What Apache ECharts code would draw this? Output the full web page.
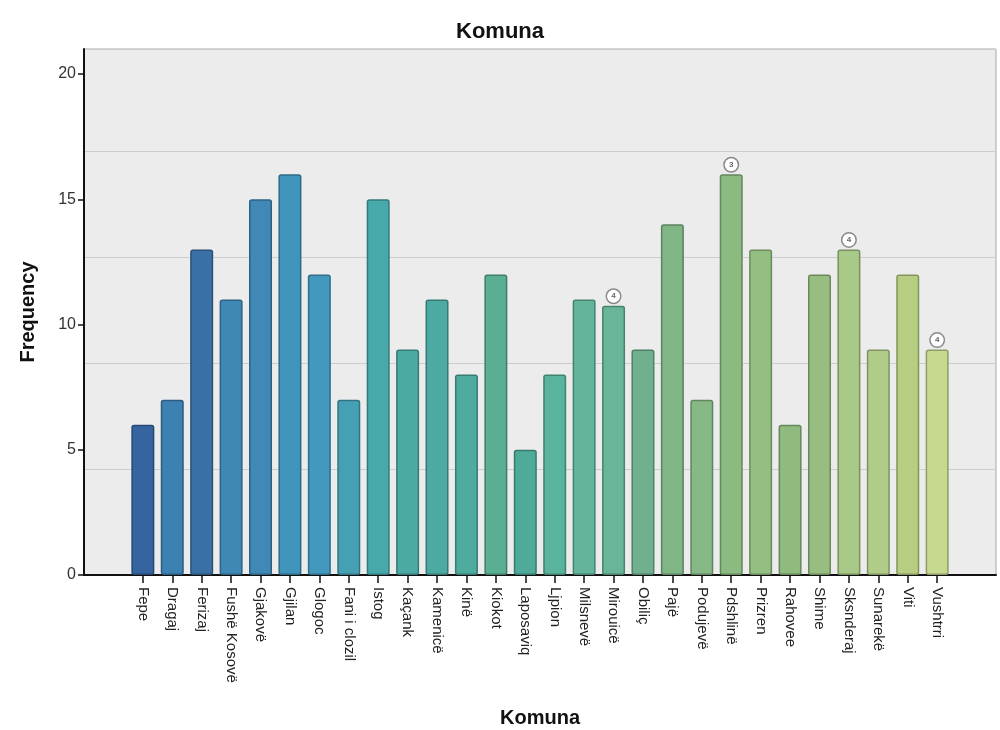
<!DOCTYPE html>
<html>
<head>
<meta charset="utf-8">
<script src="https://cdn.jsdelivr.net/npm/echarts@6/dist/echarts.min.js"></script>
<style>html,body{margin:0;padding:0;background:#fff;}#c{width:1000px;height:730px;}</style>
</head>
<body>
<div id="c"></div>
<script>
const categories = ['Fepe','Dragaj','Ferizaj','Fushë Kosovë','Gjakovë','Gjilan','Glogoc','Fani i clozil','Istog','Kaçank','Kamenicë','Kinë','Kiokot','Laposaviq','Ljpion','Milsnevë','Mirouicë','Obiliç','Pajë','Podujevë','Pdshlinë','Prizren','Rahovee','Shime','Sksnderaj','Sunarekë','Viti','Vushtrri'];
const frequencies = [6,7,13,11,15,16,12,7,15,9,11,8,12,5,8,11,10.75,9,14,7,16,13,6,12,13,9,12,9];
const outlierMarks = {16:'4', 20:'3', 24:'4', 27:'4'};
const yTicks = [0,5,10,15,20];

const barColors = ['#3564a0','#3d80b2','#3a70a5','#3f88b5','#4088b5','#4194bb','#4399bd','#46a0b4','#48a9aa','#4baaa3','#4daaa3','#4fab9e','#5aae93','#4faa99','#5ab39c','#62b49b','#68b598','#71b08f','#80b685','#86b986','#8cbb82','#94bf83','#8fbb7e','#97bd80','#a8c987','#b1cc88','#b7cd82','#c7d98e'];

function darken(hex, f) {
  const n = parseInt(hex.slice(1), 16);
  const r = Math.round(((n >> 16) & 255) * f), g = Math.round(((n >> 8) & 255) * f), b = Math.round((n & 255) * f);
  return 'rgb(' + r + ',' + g + ',' + b + ')';
}

const idx = categories.map((_, i) => i);
const seriesData = frequencies.map((v, i) => {
  const item = {
    value: [i, v],
    itemStyle: { color: barColors[i], borderColor: darken(barColors[i], 0.72), borderWidth: 1.5, borderRadius: 2 }
  };
  if (outlierMarks[i] !== undefined) {
    item.label = {
      show: true, position: 'top', distance: 3,
      formatter: outlierMarks[i],
      fontSize: 8, color: '#666', fontWeight: 'bold',
      backgroundColor: '#fff', borderColor: '#8a8a8a', borderWidth: 1.5,
      borderRadius: 8, width: 11, height: 11, lineHeight: 11, align: 'center', padding: 1
    };
  }
  return item;
});

const chart = echarts.init(document.getElementById('c'));
chart.setOption({
  animation: false,
  backgroundColor: '#fff',
  title: {
    text: 'Komuna', left: 'center', top: 16,
    textStyle: { fontFamily: 'Liberation Sans, Arial, sans-serif', fontSize: 22, fontWeight: 'bold', color: '#111' }
  },
  grid: {
    left: 84, right: 4, top: 49, bottom: 155,
    outerBoundsMode: 'none', containLabel: false,
    show: true, backgroundColor: '#ececec', borderColor: '#a8a8a8', borderWidth: 1
  },
  xAxis: {
    type: 'value', min: -2, max: 29, interval: 1,
    name: 'Komuna', nameLocation: 'middle', nameGap: 133,
    nameTextStyle: { fontFamily: 'Liberation Sans, Arial, sans-serif', fontSize: 20, fontWeight: 'bold', color: '#111' },
    axisLine: { show: true, onZero: false, lineStyle: { color: '#111', width: 2 } },
    axisTick: { show: true, length: 8, customValues: idx, lineStyle: { color: '#111', width: 1.5 } },
    axisLabel: {
      customValues: idx, rotate: -90, margin: 12,
      formatter: v => (categories[v] !== undefined ? categories[v] : ''),
      fontFamily: 'Liberation Sans, Arial, sans-serif', fontSize: 15, color: '#222'
    },
    splitLine: { show: false }
  },
  yAxis: [{
    type: 'value', min: 0, max: 21,
    name: 'Frequency', nameLocation: 'middle', nameGap: 46,
    nameTextStyle: { fontFamily: 'Liberation Sans, Arial, sans-serif', fontSize: 20, fontWeight: 'bold', color: '#111' },
    axisLine: { show: true, onZero: false, lineStyle: { color: '#111', width: 2 } },
    axisTick: { show: true, length: 6, customValues: yTicks, lineStyle: { color: '#111', width: 1.5 } },
    axisLabel: { customValues: yTicks, margin: 8, fontFamily: 'Liberation Sans, Arial, sans-serif', fontSize: 16, color: '#333' },
    splitLine: { show: false }
  }, {
    type: 'value', min: 0, max: 4.97, interval: 1, position: 'right',
    axisLine: { show: false }, axisTick: { show: false }, axisLabel: { show: false },
    splitLine: { show: true, lineStyle: { color: '#cdcdcd', width: 1 } }
  }],
  series: [{
    type: 'bar', yAxisIndex: 0, barWidth: 23,
    data: seriesData
  }]
});
</script>
</body>
</html>
